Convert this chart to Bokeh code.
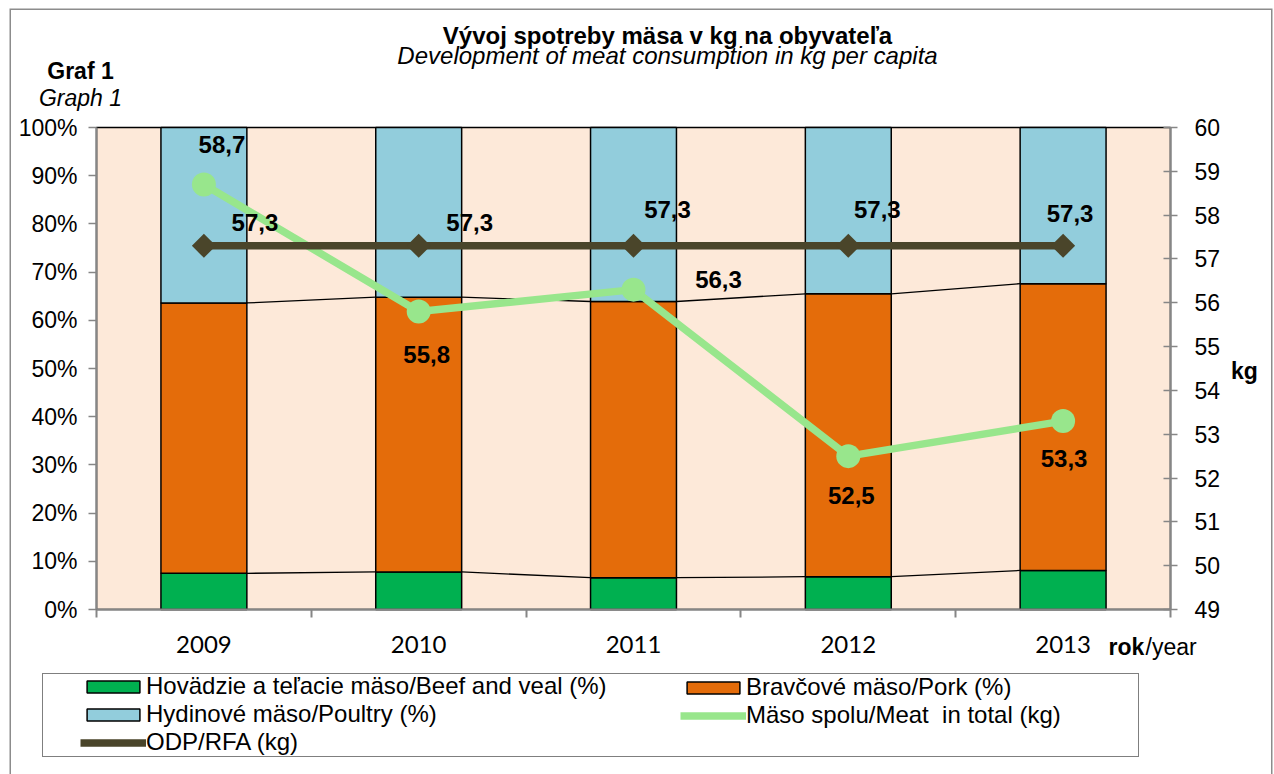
import numpy as np
from bokeh.plotting import figure
from bokeh.models import (Range1d, LinearAxis, FixedTicker, PrintfTickFormatter,
                          ColumnDataSource, LabelSet, Label, Legend, LegendItem)
from bokeh.core.properties import value
from bokeh.embed import file_html
from bokeh.resources import INLINE

# ---------------- data ----------------
years = ["2009", "2010", "2011", "2012", "2013"]
beef = [7.5, 7.8, 6.6, 6.8, 8.1]          # % share
pork = [56.1, 57.0, 57.3, 58.7, 59.5]     # % share
poultry = [36.4, 35.2, 36.1, 34.5, 32.4]  # % share
meat_total = [58.7, 55.8, 56.3, 52.5, 53.3]  # kg
odp = [57.3, 57.3, 57.3, 57.3, 57.3]         # kg
pct_ticks = [0, 10, 20, 30, 40, 50, 60, 70, 80, 90, 100]
kg_ticks = [49, 50, 51, 52, 53, 54, 55, 56, 57, 58, 59, 60]

# label offsets (screen px) - styling only
meat_dx = [18, 8, 85, 3, 1]
meat_dy = [40, -43, 10, -39, -37]
odp_dx = [51, 51, 34, 29, 7]
odp_dy = [23, 23, 36, 36, 32]

# ---------------- layout (pixels) ----------------
W, H = 1274, 774
FL, FR, FT, FB = 9, 1272, 8, 774      # outer chart border (frame)
PL, PR, PT, PB = 96, 1170, 127, 609   # plot-area box on the canvas

FONT = "Liberation Sans"
C_BEEF = "#00B050"
C_PORK = "#E46C0A"
C_POULTRY = "#92CDDC"
C_MEAT = "#98E68C"
C_ODP = "#4A452A"
C_BG = "#FDE9D9"
GRAY = "#868686"

n = len(years)
xs = np.arange(n) + 0.5
boundaries = list(np.arange(n + 1).astype(float))
ymin, ymax = pct_ticks[0], pct_ticks[-1]
kmin, kmax = kg_ticks[0], kg_ticks[-1]

ppx = (PR - PL) / n
ppy = (PB - PT) / (ymax - ymin)
ppk = (PB - PT) / (kmax - kmin)

xr = Range1d(-(PL - FL) / ppx, n + (FR - PR) / ppx)
yr = Range1d(ymin - (FB - PB) / ppy, ymax + (PT - FT) / ppy)
p = figure(width=W, height=H, x_range=xr, y_range=yr,
           output_backend="svg", toolbar_location=None, title=None,
           min_border=0, min_border_left=FL, min_border_right=W - FR,
           min_border_top=FT, min_border_bottom=H - FB,
           background_fill_color="white", border_fill_color="white",
           outline_line_color=None)
p.grid.visible = False
p.extra_y_ranges = {"kg": Range1d(kmin - (FB - PB) / ppk, kmax + (PT - FT) / ppk)}

# outer chart border (left, top, right edges of the frame)
p.line(x=[xr.start, xr.start, xr.end, xr.end], y=[yr.start, yr.end, yr.end, yr.start],
       line_color="#8C8C8C", line_width=3)

# plot-area background
p.quad(left=[0], right=[n], bottom=[ymin], top=[ymax], fill_color=C_BG,
       line_color="black", line_width=1.5)

# ---- axes (library axes pinned at the plot-area edges) ----
xa = p.xaxis[0]
xa.fixed_location = ymin
xa.bounds = (0, n)
xa.ticker = FixedTicker(ticks=list(xs), minor_ticks=boundaries)
xa.major_label_overrides = {float(x): y for x, y in zip(xs, years)}
xa.major_tick_in = 0
xa.major_tick_out = 0
xa.minor_tick_in = 0
xa.minor_tick_out = 8
xa.minor_tick_line_color = GRAY
xa.minor_tick_line_width = 2
xa.axis_line_color = GRAY
xa.axis_line_width = 2
xa.major_label_standoff = 18
xa.major_label_text_font = "Lato"
xa.major_label_text_font_size = "24px"
xa.major_label_text_color = "black"

ya = p.yaxis[0]
ya.fixed_location = 0
ya.bounds = (ymin, ymax)
ya.ticker = FixedTicker(ticks=pct_ticks, minor_ticks=[])
ya.formatter = PrintfTickFormatter(format="%d%%")
ya.major_tick_in = 0
ya.major_tick_out = 8
ya.major_tick_line_color = GRAY
ya.major_tick_line_width = 1.5
ya.axis_line_color = GRAY
ya.axis_line_width = 2
ya.major_label_standoff = 11
ya.major_label_text_font = FONT
ya.major_label_text_font_size = "23px"
ya.major_label_text_color = "black"

ra = LinearAxis(y_range_name="kg", fixed_location=n, bounds=(kmin, kmax),
                ticker=FixedTicker(ticks=kg_ticks, minor_ticks=[]))
ra.major_tick_in = 7
ra.major_tick_out = 7
ra.major_tick_line_color = GRAY
ra.major_tick_line_width = 1.5
ra.axis_line_color = GRAY
ra.axis_line_width = 2
ra.major_label_standoff = 17
ra.major_label_text_font = FONT
ra.major_label_text_font_size = "23px"
ra.major_label_text_color = "black"
p.add_layout(ra, "right")

# ---- stacked bars ----
src = ColumnDataSource(dict(x=xs, beef=beef, pork=pork, poultry=poultry))
bars = p.vbar_stack(["beef", "pork", "poultry"], x="x", width=0.4, source=src,
                    fill_color=[C_BEEF, C_PORK, C_POULTRY], line_color="black", line_width=1.5)

# series connector lines
cum1 = np.array(beef)
cum2 = np.array(beef) + np.array(pork)
for cum in (cum1, cum2):
    p.segment(x0=xs[:-1] + 0.2, y0=cum[:-1], x1=xs[1:] - 0.2, y1=cum[1:],
              line_color="black", line_width=1.3)

# ---- lines ----
meat_line = p.line(xs, meat_total, y_range_name="kg", line_color=C_MEAT, line_width=7.5)
meat_pts = p.scatter(xs, meat_total, y_range_name="kg", marker="circle", size=24,
                     fill_color=C_MEAT, line_color=None)
odp_line = p.line(xs, odp, y_range_name="kg", line_color=C_ODP, line_width=7.5)
odp_pts = p.scatter(xs, odp, y_range_name="kg", marker="square", angle=np.pi / 4, size=17,
                    fill_color=C_ODP, line_color=None)

# ---- data labels ----
def fmt(v):
    return f"{v:.1f}".replace(".", ",")

lab_src = ColumnDataSource(dict(
    x=list(xs) + list(xs),
    y=meat_total + odp,
    t=[fmt(v) for v in meat_total] + [fmt(v) for v in odp],
    dx=meat_dx + odp_dx,
    dy=meat_dy + odp_dy,
))
p.add_layout(LabelSet(x="x", y="y", text="t", x_offset="dx", y_offset="dy", source=lab_src,
                      y_range_name="kg", text_align="center", text_baseline="middle",
                      text_font=value(FONT), text_font_size=value("24px"),
                      text_font_style="bold", text_color="black"))

# ---- free texts (canvas pixel positions, y measured from the top) ----
def txt(x, y, s, size="23px", style="normal", align="center"):
    p.add_layout(Label(x=x - FL, y=FB - y, x_units="screen", y_units="screen", text=s,
                       text_font=FONT, text_font_size=size, text_font_style=style,
                       text_align=align, text_baseline="middle", text_color="black"))

txt(667, 35, "Vývoj spotreby mäsa v kg na obyvateľa", size="24px", style="bold")
txt(667, 55, "Development of meat consumption in kg per capita", size="24px", style="italic")
txt(80, 70, "Graf 1", style="bold")
txt(80, 97, "Graph 1", style="italic")
txt(1244, 370, "kg", style="bold")
txt(1108, 646, "rok", style="bold", align="left")
txt(1145, 646, "/year", align="left")

# ---- legend ----
def loc(x, y_bottom):
    return (x - FL, FB - y_bottom)

dummy = p.scatter([], [], fill_alpha=0, line_alpha=0)
box = Legend(items=[LegendItem(label=" ", renderers=[dummy])], location=loc(42, 757),
             padding=0, glyph_width=1, glyph_height=1, label_standoff=0,
             label_width=1094, label_height=82, spacing=0, margin=0,
             border_line_color="black", border_line_width=1.5,
             background_fill_color="white", background_fill_alpha=1)
p.add_layout(box)

common = dict(padding=0, spacing=0, margin=0, glyph_width=66, glyph_height=15,
              label_standoff=0, label_height=27, label_text_font=FONT,
              label_text_font_size="24px", label_text_color="black",
              label_text_baseline="middle",
              border_line_alpha=0, background_fill_alpha=0)
legA = Legend(items=[
    LegendItem(label="Hovädzie a teľacie mäso/Beef and veal (%)", renderers=[bars[0]]),
    LegendItem(label="Hydinové mäso/Poultry (%)", renderers=[bars[2]]),
    LegendItem(label="ODP/RFA (kg)", renderers=[odp_line, odp_pts]),
], location=loc(80, 756), **common)
legB = Legend(items=[
    LegendItem(label="Bravčové mäso/Pork (%)", renderers=[bars[1]]),
    LegendItem(label="Mäso spolu/Meat  in total (kg)", renderers=[meat_line, meat_pts]),
], location=loc(680, 729), **common)
p.add_layout(legA)
p.add_layout(legB)

open("out.html", "w").write(file_html(p, INLINE))
